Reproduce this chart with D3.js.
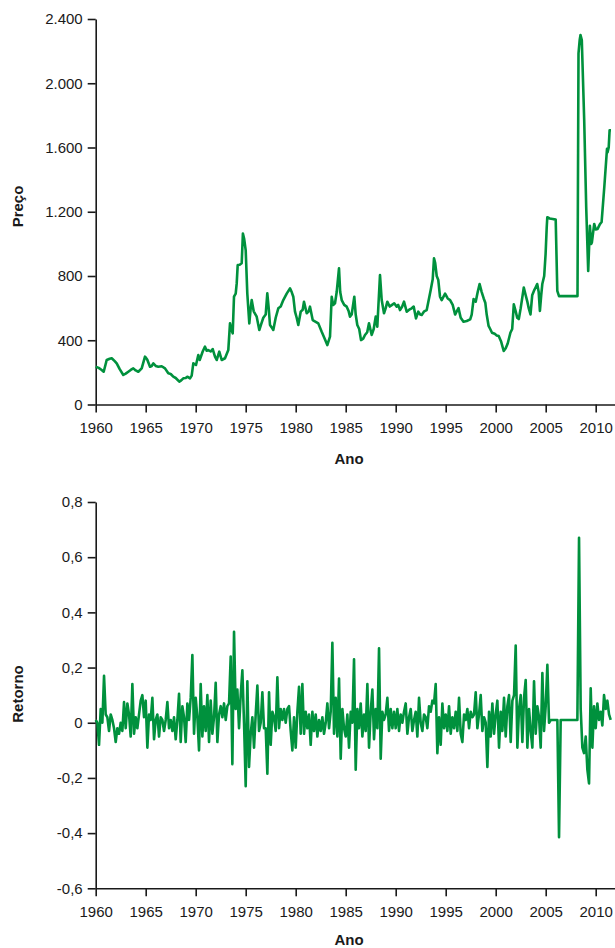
<!DOCTYPE html>
<html lang="pt">
<head>
<meta charset="UTF-8">
<title>Preço e Retorno</title>
<script src="https://d3js.org/d3.v7.min.js"></script>
<style>
  body { margin: 0; background: #fff; }
  svg text { font-family: "Liberation Sans", Arial, sans-serif; }
</style>
</head>
<body>
<div id="chart"></div>
<script>
// tick labels
const yearTicks = [1960, 1965, 1970, 1975, 1980, 1985, 1990, 1995, 2000, 2005, 2010];
const priceTicks = [0, 400, 800, 1200, 1600, 2000, 2400];
const returnTicks = [-0.6, -0.4, -0.2, 0, 0.2, 0.4, 0.6, 0.8];

// price series
const priceYears = [
  1960.0, 1960.3, 1960.6, 1960.8, 1961.1, 1961.4, 1961.6, 1961.9, 1962.1, 1962.4,
  1962.76, 1963.0, 1963.26, 1963.5, 1963.76, 1964.0, 1964.26, 1964.6, 1964.93, 1965.15,
  1965.43, 1965.6, 1965.76, 1966.0, 1966.26, 1966.6, 1966.93, 1967.26, 1967.5, 1967.76,
  1968.0, 1968.36, 1968.55, 1968.76, 1969.0, 1969.16, 1969.43, 1969.6, 1969.76, 1970.03,
  1970.26, 1970.4, 1970.7, 1970.93, 1971.1, 1971.26, 1971.5, 1971.7, 1971.93, 1972.1,
  1972.36, 1972.6, 1972.93, 1973.26, 1973.43, 1973.55, 1973.7, 1973.83, 1974.0, 1974.1,
  1974.2, 1974.4, 1974.6, 1974.72, 1974.85, 1975.0, 1975.16, 1975.36, 1975.5, 1975.6,
  1975.8, 1976.1, 1976.36, 1976.55, 1976.76, 1977.0, 1977.16, 1977.3, 1977.43, 1977.6,
  1977.76, 1978.0, 1978.26, 1978.5, 1978.76, 1979.1, 1979.43, 1979.6, 1979.76, 1979.93,
  1980.1, 1980.26, 1980.5, 1980.7, 1980.83, 1981.1, 1981.3, 1981.43, 1981.7, 1982.0,
  1982.26, 1982.6, 1982.9, 1983.16, 1983.43, 1983.6, 1983.75, 1983.93, 1984.1, 1984.33,
  1984.45, 1984.6, 1984.85, 1985.1, 1985.3, 1985.43, 1985.6, 1985.86, 1986.0, 1986.16,
  1986.35, 1986.53, 1986.75, 1986.93, 1987.15, 1987.33, 1987.6, 1987.8, 1988.0, 1988.16,
  1988.43, 1988.6, 1988.83, 1989.0, 1989.16, 1989.4, 1989.6, 1989.85, 1990.1, 1990.25,
  1990.43, 1990.65, 1990.83, 1991.1, 1991.35, 1991.6, 1991.8, 1992.03, 1992.26, 1992.45,
  1992.6, 1992.85, 1993.1, 1993.3, 1993.5, 1993.7, 1993.83, 1993.95, 1994.1, 1994.26,
  1994.43, 1994.6, 1994.94, 1995.2, 1995.44, 1995.7, 1995.94, 1996.1, 1996.28, 1996.5,
  1996.78, 1997.1, 1997.45, 1997.6, 1997.79, 1998.0, 1998.2, 1998.39, 1998.6, 1998.8,
  1998.96, 1999.1, 1999.29, 1999.45, 1999.63, 1999.9, 2000.1, 2000.3, 2000.55, 2000.8,
  2001.0, 2001.2, 2001.47, 2001.65, 2001.81, 2002.0, 2002.15, 2002.31, 2002.5, 2002.81,
  2003.0, 2003.15, 2003.3, 2003.48, 2003.65, 2003.82, 2004.0, 2004.15, 2004.3, 2004.42,
  2004.55, 2004.66, 2004.85, 2004.99, 2005.1, 2005.16, 2005.4, 2005.7, 2006.0, 2006.16,
  2006.33, 2007.0, 2007.5, 2008.18, 2008.28, 2008.4, 2008.48, 2008.61, 2008.85, 2009.05,
  2009.25, 2009.42, 2009.55, 2009.62, 2009.85, 2010.0, 2010.19, 2010.4, 2010.59, 2010.86,
  2011.13, 2011.19, 2011.3, 2011.39, 2011.53
];
const priceValues = [
  235, 228, 215, 204, 277, 285, 288, 270, 256, 220,
  184, 192, 204, 215, 225, 212, 204, 225, 298, 280,
  235, 240, 256, 240, 235, 238, 225, 194, 190, 173,
  165, 142, 150, 163, 165, 173, 163, 180, 256, 246,
  308, 277, 330, 360, 335, 339, 330, 345, 298, 277,
  329, 277, 288, 339, 505, 470, 443, 671, 690, 754,
  868, 870, 879, 1065, 1030, 960, 692, 505, 600, 650,
  580, 547, 464, 500, 540, 560, 692, 600, 495, 480,
  464, 540, 599, 610, 650, 690, 723, 700, 671, 578,
  540, 495, 578, 590, 640, 568, 580, 609, 526, 515,
  505, 453, 410, 370, 422, 671, 620, 630, 700, 848,
  700, 650, 620, 609, 580, 547, 560, 671, 560, 495,
  470, 401, 410, 433, 450, 505, 433, 470, 547, 484,
  806, 650, 568, 600, 640, 610, 619, 630, 609, 620,
  588, 610, 640, 578, 590, 599, 610, 536, 578, 560,
  557, 580, 588, 650, 713, 780, 910, 880, 800, 775,
  671, 650, 690, 660, 650, 620, 560, 580, 600, 540,
  515, 520, 530, 560, 657, 640, 700, 750, 700, 660,
  634, 560, 489, 470, 447, 440, 430, 426, 390, 333,
  350, 380, 447, 470, 624, 580, 540, 532, 600, 728,
  680, 644, 600, 561, 680, 707, 730, 750, 700, 582,
  680, 750, 800, 937, 1100, 1166, 1158, 1155, 1151, 707,
  675, 675, 675, 675, 2186, 2270, 2300, 2269, 1771, 1230,
  831, 1113, 1000, 1009, 1124, 1090, 1093, 1120, 1136, 1354,
  1592, 1570, 1600, 1707, 1707
];

// return series, six readings per year from 1960
const returnStartYear = 1960;
const returnsPerYear = 6;
const returnValues = [
  0.01, 0.0, -0.08, 0.05, 0.0, 0.17,        // 1960
  0.03, 0.02, -0.03, 0.03, 0.01, -0.02,     // 1961
  -0.07, -0.02, -0.04, 0.0, -0.03, 0.075,   // 1962
  -0.02, 0.07, 0.03, -0.05, 0.14, -0.04,    // 1963
  0.02, -0.02, 0.03, 0.08, 0.1, 0.02,       // 1964
  0.08, -0.09, 0.03, 0.01, 0.09, -0.06,     // 1965
  0.01, 0.03, -0.05, 0.02, 0.01, -0.03,     // 1966
  0.01, 0.075, -0.02, 0.01, -0.03, 0.02,    // 1967
  -0.06, 0.01, 0.105, -0.07, 0.06, 0.02,    // 1968
  -0.07, 0.07, 0.01, 0.09, 0.245, -0.04,    // 1969
  0.09, 0.02, -0.1, 0.14, -0.05, 0.06,      // 1970
  -0.03, 0.1, -0.07, 0.08, -0.04, 0.02,     // 1971
  0.145, -0.07, 0.03, 0.06, 0.02, 0.07,     // 1972
  0.01, 0.06, 0.07, 0.24, -0.15, 0.33,      // 1973
  0.05, 0.12, -0.02, 0.1, 0.19, 0.0,        // 1974
  -0.23, 0.15, -0.16, -0.04, 0.02, -0.09,   // 1975
  0.03, 0.135, -0.03, 0.0, 0.11, -0.02,     // 1976
  -0.02, -0.185, 0.11, -0.08, 0.04, 0.02,   // 1977
  -0.03, 0.165, -0.02, 0.05, 0.01, 0.05,    // 1978
  0.0, 0.05, 0.06, -0.03, -0.1, 0.02,       // 1979
  -0.09, 0.04, 0.13, -0.04, 0.14, -0.04,    // 1980
  0.04, -0.02, 0.03, -0.08, 0.04, -0.03,    // 1981
  0.03, -0.05, 0.01, -0.03, 0.02, -0.04,    // 1982
  0.0, 0.07, -0.02, 0.04, 0.29, -0.04,      // 1983
  0.09, -0.05, 0.16, -0.13, 0.05, -0.02,    // 1984
  -0.05, 0.03, -0.09, 0.04, 0.0, 0.23,      // 1985
  -0.17, 0.05, -0.02, 0.07, -0.05, 0.03,    // 1986
  -0.03, 0.14, -0.09, 0.04, 0.12, -0.06,    // 1987
  0.05, -0.02, 0.27, -0.13, 0.04, 0.01,     // 1988
  0.03, 0.09, -0.03, 0.05, -0.02, 0.04,     // 1989
  -0.02, 0.05, -0.03, 0.03, 0.0, 0.04,      // 1990
  0.07, -0.04, 0.02, 0.05, -0.03, 0.01,     // 1991
  0.04, -0.05, 0.09, 0.0, -0.03, 0.03,      // 1992
  0.02, -0.02, 0.06, 0.04, 0.08, 0.07,      // 1993
  0.14, -0.11, 0.02, -0.08, 0.07, -0.02,    // 1994
  0.03, -0.03, 0.06, -0.04, 0.02, -0.02,    // 1995
  0.04, -0.03, 0.09, -0.04, -0.07, 0.03,    // 1996
  0.01, 0.05, -0.02, 0.04, 0.02, 0.03,      // 1997
  0.11, -0.02, 0.03, 0.1, -0.03, 0.02,      // 1998
  0.0, -0.16, 0.04, -0.05, 0.07, -0.04,     // 1999
  0.03, 0.08, -0.09, 0.04, -0.03, 0.09,     // 2000
  -0.05, 0.06, 0.1, -0.07, 0.08, 0.1,       // 2001
  0.28, -0.09, 0.05, 0.1, -0.07, 0.09,      // 2002
  0.155, -0.09, 0.05, -0.03, -0.09, 0.15,   // 2003
  -0.04, 0.06, 0.02, -0.09, 0.18, -0.03,    // 2004
  0.06, 0.21, 0.0, 0.01, 0.01, 0.01,        // 2005
  0.01, 0.01, -0.415, 0.01, 0.01, 0.01,     // 2006
  0.01, 0.01, 0.01, 0.01, 0.01, 0.01,       // 2007
  0.01, 0.01, 0.67, 0.05, -0.09, -0.11,     // 2008
  -0.05, -0.17, -0.22, 0.125, -0.09, 0.06,  // 2009
  -0.02, 0.07, 0.01, 0.04, -0.01, 0.1,      // 2010
  0.05, 0.08, 0.03, 0.01                    // 2011
];

const width = 615, height = 948;
const green = "#00913d";
const axisColor = "#1a1a1a";

const br = d3.formatLocale({
  decimal: ",", thousands: ".", grouping: [3], currency: ["R$ ", ""], minus: "-"
});
const fmtPrice = d => d === 0 ? "0" : br.format(",.0f")(d);
const fmtReturn = d => d === 0 ? "0" : br.format(".1f")(d);

const svg = d3.select("#chart")
  .append("svg")
  .attr("width", width)
  .attr("height", height);

const x = d3.scaleLinear()
  .domain([1960, 2011.93])
  .range([95.7, 615]);

function drawPanel(top, bottom, yDomain, yTicks, yFmt, yTitle, titleY, xTitleY, series) {
  const y = d3.scaleLinear().domain(yDomain).range([bottom, top]);

  const xAxis = svg.append("g")
    .attr("transform", `translate(0,${bottom})`)
    .call(d3.axisBottom(x).tickValues(yearTicks).tickFormat(d3.format("d"))
      .tickSize(8).tickPadding(10).tickSizeOuter(0));

  const yAxis = svg.append("g")
    .attr("transform", `translate(${x(1960)},0)`)
    .call(d3.axisLeft(y).tickValues(yTicks).tickFormat(yFmt)
      .tickSize(8).tickPadding(5).tickSizeOuter(0));

  [xAxis, yAxis].forEach(a => {
    a.attr("font-size", 15)
      .attr("font-family", '"Liberation Sans", Arial, sans-serif')
      .style("color", axisColor);
    a.selectAll("path, line").attr("stroke-width", 1.6);
  });

  // line
  const line = d3.line()
    .x(d => x(d[0]))
    .y(d => y(d[1]));

  svg.append("path")
    .datum(series)
    .attr("fill", "none")
    .attr("stroke", green)
    .attr("stroke-width", 2.6)
    .attr("stroke-linejoin", "round")
    .attr("d", line);

  // titles
  svg.append("text")
    .attr("x", 349)
    .attr("y", xTitleY)
    .attr("text-anchor", "middle")
    .attr("font-size", 15)
    .attr("font-weight", "bold")
    .attr("fill", axisColor)
    .text("Ano");

  svg.append("text")
    .attr("transform", `translate(23,${titleY}) rotate(-90)`)
    .attr("text-anchor", "middle")
    .attr("font-size", 15)
    .attr("font-weight", "bold")
    .attr("fill", axisColor)
    .text(yTitle);
}

const priceSeries = priceYears.map((yr, i) => [yr, priceValues[i]]);
const returnSeries = returnValues.map((v, i) => [returnStartYear + i / returnsPerYear, v]);

drawPanel(19, 404.5, [0, 2400], priceTicks, fmtPrice, "Preço", 206.5, 463.5, priceSeries);
drawPanel(502, 888.3, [-0.6, 0.8], returnTicks, fmtReturn, "Retorno", 694, 945, returnSeries);
</script>
</body>
</html>
